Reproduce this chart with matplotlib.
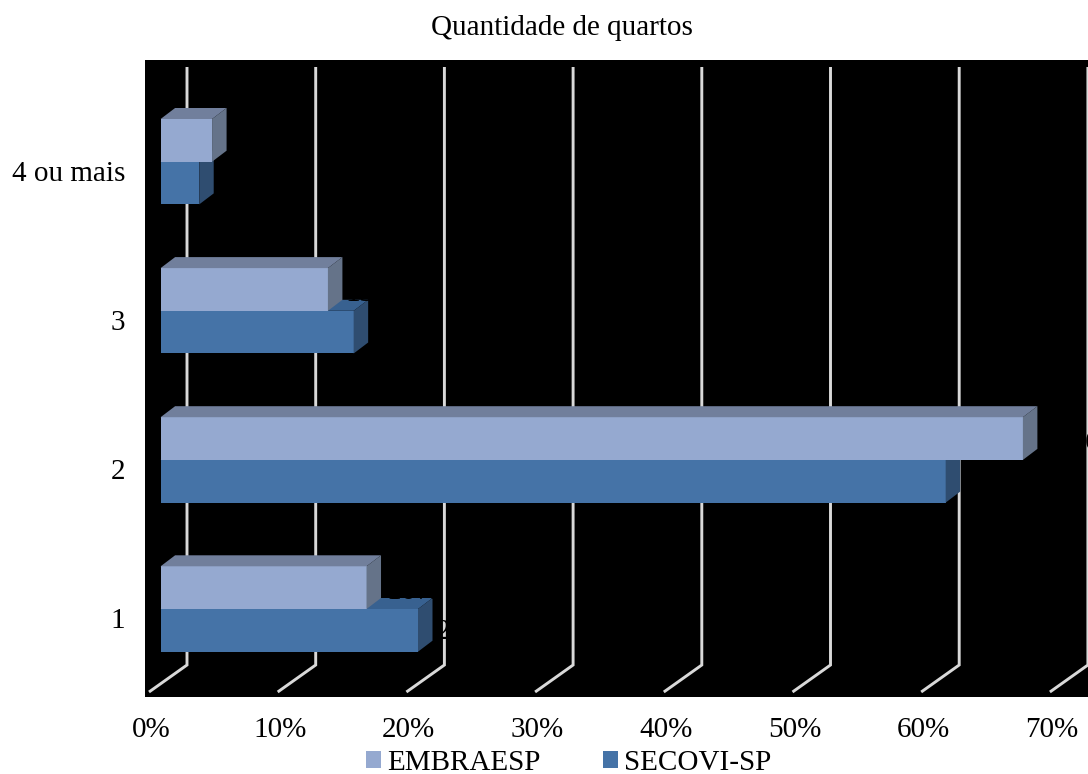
"""Quantidade de quartos: 3D-look horizontal bars on a black plot area."""

import numpy as np
import matplotlib
matplotlib.use("Agg")
import matplotlib.pyplot as plt
from matplotlib.patches import Patch, Polygon

# ── Data ───────────────────────────────────────────────────────────────────────
categories = ["1", "2", "3", "4 ou mais"]
embraesp = [16, 67, 13, 4]
secovi = [20, 61, 15, 3]
axis_ticks = [0, 10, 20, 30, 40, 50, 60, 70]

# ── Pixel layout of the reference ──────────────────────────────────────────────
W, H = 1088, 774
LEFT, RIGHT, TOP, BOTTOM = 145, 1088, 60, 697
X0_PX = 160.6     # pixel of 0% on the bar plane
X_SCALE = 12.87   # pixels per percent
Y0_PX = 609.0     # pixel of first category
Y_SCALE = 149.1   # pixels per category
BAR_H = 42.7 / Y_SCALE
DEPTH_X = 14.5 / X_SCALE
DEPTH_Y = 11.0 / Y_SCALE
FONT = 21

EMB_COLORS = ("#95A9D0", "#717F9C", "#657389")   # front, top, side
SEC_COLORS = ("#4573A7", "#386190", "#2F4D70")
GRID_COLOR = "#D9D9D9"


def px_x(px):
    return (px - X0_PX) / X_SCALE


def px_y(px):
    return (Y0_PX - px) / Y_SCALE


def draw_bars(ax, y, values, colors, zorder):
    front, top, side = colors
    ax.barh(y, values, height=BAR_H, color=front, zorder=zorder)
    for yi, v in zip(y, values):
        hi, lo = yi + BAR_H / 2, yi - BAR_H / 2
        ax.add_patch(Polygon(
            [(0, hi), (DEPTH_X, hi + DEPTH_Y), (v + DEPTH_X, hi + DEPTH_Y), (v, hi)],
            closed=True, facecolor=top, edgecolor="none", zorder=zorder,
        ))
        ax.add_patch(Polygon(
            [(v, hi), (v + DEPTH_X, hi + DEPTH_Y), (v + DEPTH_X, lo + DEPTH_Y), (v, lo)],
            closed=True, facecolor=side, edgecolor="none", zorder=zorder,
        ))


plt.rcParams["font.family"] = ["Liberation Serif", "DejaVu Serif"]

fig = plt.figure(figsize=(W / 100, H / 100), dpi=100, facecolor="white")
ax = fig.add_axes([LEFT / W, 1 - BOTTOM / H, (RIGHT - LEFT) / W, (BOTTOM - TOP) / H])
ax.set_facecolor("black")
ax.set_xlim(px_x(LEFT), px_x(RIGHT))
ax.set_ylim(px_y(BOTTOM), px_y(TOP))
for s in ax.spines.values():
    s.set_visible(False)

# ── Gridlines with their floor returns ─────────────────────────────────────────
back = px_x(187)
front = px_x(149)
for v in axis_ticks:
    ax.plot(
        [v + back, v + back, v + front],
        [px_y(67), px_y(665), px_y(692)],
        color=GRID_COLOR, linewidth=2.1, solid_joinstyle="miter",
        solid_capstyle="butt", zorder=1,
    )

# ── Bars ───────────────────────────────────────────────────────────────────────
y = np.arange(len(categories))
draw_bars(ax, y - BAR_H / 2, secovi, SEC_COLORS, 3)
draw_bars(ax, y + BAR_H / 2, embraesp, EMB_COLORS, 4)

# ── Black data labels, only visible where they cross lighter marks ─────────────
emb_dx = [20, 62, 18, 18]
for i in range(len(categories)):
    ax.text(
        embraesp[i] + emb_dx[i] / X_SCALE, y[i] + 17 / Y_SCALE,
        f"{embraesp[i]}%", color="black", fontsize=FONT, ha="left", va="center",
        clip_on=True, zorder=5,
    )
    ax.text(
        secovi[i] + 18 / X_SCALE, y[i] - 23 / Y_SCALE,
        f"{secovi[i]}%", color="black", fontsize=FONT, ha="left", va="center",
        clip_on=True, zorder=5,
    )

# ── Axes text ──────────────────────────────────────────────────────────────────
ax.set_xticks([v + front + 0.15 for v in axis_ticks])
ax.set_xticklabels([f"{v}%" for v in axis_ticks], fontsize=FONT)
ax.set_yticks(y - 9 / Y_SCALE)
ax.set_yticklabels(categories, fontsize=FONT)
ax.tick_params(axis="x", length=0, pad=14.5)
ax.tick_params(axis="y", length=0, pad=14.4)

fig.text(562 / W, 1 - 28 / H, "Quantidade de quartos", fontsize=FONT,
         ha="center", va="center")

handles = [Patch(facecolor=EMB_COLORS[0], label="EMBRAESP"),
           Patch(facecolor=SEC_COLORS[0], label="SECOVI-SP")]
fig.legend(
    handles=handles, ncols=2, frameon=False, fontsize=FONT,
    loc="center", bbox_to_anchor=(568.5 / W, 1 - 763 / H),
    handlelength=0.52, handleheight=0.52, handletextpad=0.2,
    columnspacing=2.15, borderpad=0, borderaxespad=0,
)

fig.savefig("out.png", dpi=100)
plt.close(fig)
